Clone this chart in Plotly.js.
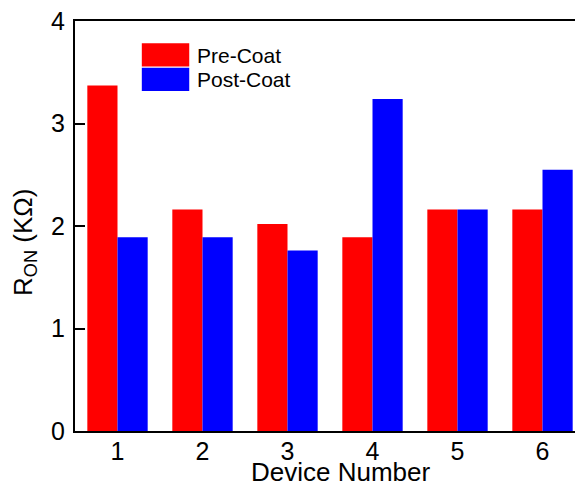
<!DOCTYPE html>
<html>
<head>
<meta charset="utf-8">
<script src="https://cdn.plot.ly/plotly-3.0.1.min.js"></script>
<style>
html,body{margin:0;padding:0;overflow:hidden;background:#fff;width:575px;height:489px;}
#plot{width:585px;height:489px;}
</style>
</head>
<body>
<div id="plot"></div>
<script>
const devices = [1, 2, 3, 4, 5, 6];
const tickLabels = ['1', '2', '3', '4', '5', '6'];
const yTicks = [0, 1, 2, 3, 4];
const preCoat = [3.37, 2.16, 2.02, 1.89, 2.16, 2.16];
const postCoat = [1.89, 1.89, 1.76, 3.24, 2.16, 2.55];
const seriesNames = ['Pre-Coat', 'Post-Coat'];
const seriesColors = ['#ff0000', '#0000ff'];
const xTitle = 'Device Number';
const yTitle = 'R<sub>ON</sub> (KΩ)';

const font = 'Arial, "Liberation Sans", sans-serif';

const traces = [
  {type: 'bar', x: devices, y: preCoat, name: seriesNames[0], marker: {color: seriesColors[0], line: {width: 0}}},
  {type: 'bar', x: devices, y: postCoat, name: seriesNames[1], marker: {color: seriesColors[1], line: {width: 0}}}
];

const layout = {
  width: 585, height: 489,
  margin: {l: 75, r: 0, t: 21, b: 58},
  paper_bgcolor: '#fff', plot_bgcolor: '#fff',
  barmode: 'group', bargap: 0.29, bargroupgap: 0,
  showlegend: false,
  font: {family: font, color: '#000', size: 25},
  xaxis: {
    range: [0.5, 6.5], tickvals: devices, ticktext: tickLabels,
    ticks: '', showline: true, linecolor: '#000', linewidth: 2, mirror: true,
    showgrid: false, zeroline: false,
    tickfont: {size: 25}, ticklabelstandoff: -3
  },
  xaxis2: {
    overlaying: 'x', side: 'top', anchor: 'y', range: [0.5, 6.5], tickvals: devices,
    ticks: 'inside', ticklen: 10, tickwidth: 2, tickcolor: '#000',
    showticklabels: false, showline: false, showgrid: false, zeroline: false
  },
  yaxis: {
    range: [0, 4], tickvals: yTicks,
    ticks: 'inside', ticklen: 10, tickwidth: 2, tickcolor: '#000',
    showline: true, linecolor: '#000', linewidth: 2, mirror: 'ticks',
    showgrid: false, zeroline: false,
    tickfont: {size: 25}, ticklabelstandoff: 3
  },
  shapes: [
    {type: 'rect', xref: 'paper', yref: 'paper', x0: 0.131, x1: 0.224, y0: 0.889, y1: 0.946, fillcolor: seriesColors[0], line: {width: 0}},
    {type: 'rect', xref: 'paper', yref: 'paper', x0: 0.131, x1: 0.224, y0: 0.829, y1: 0.886, fillcolor: seriesColors[1], line: {width: 0}}
  ],
  annotations: [
    {xref: 'paper', yref: 'paper', x: 0.235, y: 0.917, xanchor: 'left', yanchor: 'middle', text: seriesNames[0], showarrow: false, font: {size: 21}},
    {xref: 'paper', yref: 'paper', x: 0.235, y: 0.857, xanchor: 'left', yanchor: 'middle', text: seriesNames[1], showarrow: false, font: {size: 21}},
    {xref: 'paper', yref: 'paper', x: 0.5216, y: -0.1415, xanchor: 'center', yanchor: 'bottom', text: xTitle, showarrow: false, font: {size: 26}},
    {xref: 'paper', yref: 'paper', x: -0.1, y: 0.4585, xanchor: 'center', yanchor: 'middle', textangle: -90, text: yTitle, showarrow: false, font: {size: 26}}
  ]
};

Plotly.newPlot('plot', traces, layout, {staticPlot: true, displayModeBar: false});
</script>
</body>
</html>
